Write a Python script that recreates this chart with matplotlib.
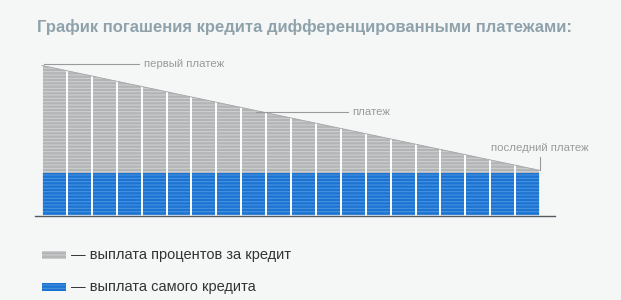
import numpy as np
import matplotlib
matplotlib.use("Agg")
import matplotlib.pyplot as plt
from matplotlib.patches import Polygon, Rectangle

plt.rcParams["font.family"] = ["Liberation Sans", "DejaVu Sans"]
plt.rcParams["hatch.linewidth"] = 0.7

# data: 20 monthly payments, principal constant, interest falls
months = np.arange(20)
principal = [5000] * 20
interest = [12200, 11590, 10980, 10370, 9760, 9150, 8540, 7930, 7320, 6710,
            6100, 5490, 4880, 4270, 3660, 3050, 2440, 1830, 1220, 610]

title = "График погашения кредита дифференцированными платежами:"
labels = ["первый платеж", "платеж", "последний платеж"]
legend_labels = ["— выплата процентов за кредит", "— выплата самого кредита"]

bg = "#f5f7f7"
gray = "#b2b4b6"
blue = "#1c74d2"

fig = plt.figure(figsize=(6.21, 3.0), dpi=100, facecolor=bg)
ax = fig.add_axes([35 / 621, 84 / 300, 520 / 621, 156 / 300])
ax.set_facecolor(bg)

totals = np.array(principal) + np.array(interest)
k, b = np.polyfit(months, totals, 1)
top = lambda x: k * x + b

ax.set_xlim(-0.5 - 7 / 24.9, 19.5 + 15 / 24.9)
ax.set_ylim(0, 156 * 5000 / 43)

# slanted top: clip bars to the trend of the totals
clip = Polygon([(-0.5, 0), (-0.5, top(-0.5)), (19.5, top(19.5)), (19.5, 0)],
               closed=True, transform=ax.transData, facecolor="none", edgecolor="none")
ax.add_patch(clip)

extra = abs(k)
g = ax.bar(months, np.array(interest) + extra, bottom=principal, width=1.0,
           color=gray, edgecolor="#d0d2d4", linewidth=0, hatch="-----")
bl = ax.bar(months, principal, width=1.0, color=blue, edgecolor="#4d95e0",
            linewidth=0, hatch="-----")
sep = ax.bar(months, totals + extra, width=1.0, color="none", edgecolor="white",
             linewidth=1.2)
for bars in (g, bl, sep):
    for p in bars:
        p.set_clip_path(clip)

# thin edge along the slanted top
ax.plot([-0.5, 19.5], [top(-0.5), top(19.5)], color="#a4a6a8", lw=0.6)

for s in ["top", "left", "right"]:
    ax.spines[s].set_visible(False)
ax.spines["bottom"].set_color("#555a5e")
ax.spines["bottom"].set_linewidth(1)
ax.set_xticks([])
ax.set_yticks([])

# annotations
lc = "#9a9a9a"
ax.plot([-0.4, 3.4], [top(-0.5) + 120, top(-0.5) + 120], color=lc, lw=0.8, clip_on=False)
ax.text(3.6, top(-0.5) + 120, labels[0], color=lc, fontsize=8.2, va="center", ha="left")
ax.plot([8.1, 11.8], [top(8.3), top(8.3)], color=lc, lw=0.8, clip_on=False)
ax.text(11.95, top(8.3), labels[1], color=lc, fontsize=8.2, va="center", ha="left")
ax.plot([19.5, 19.5], [top(19.5), top(19.5) + 1600], color=lc, lw=0.8, clip_on=False)
ax.text(21.45, top(19.5) + 2600, labels[2], color=lc, fontsize=8.2, va="center", ha="right")

fig.text(37 / 621, 1 - 27 / 300, title, color="#8fa2ac", fontsize=12.0,
         fontweight="bold", va="center", ha="left")

# legend
for i, (lab, col, hc) in enumerate(zip(legend_labels, [gray, blue], ["#d0d2d4", "#4d95e0"])):
    yc = 254.5 + 32 * i
    fig.patches.append(Rectangle((42 / 621, 1 - (yc + 4) / 300), 24 / 621, 8 / 300,
                                 transform=fig.transFigure, facecolor=col,
                                 edgecolor=hc, linewidth=0, hatch="-----"))
    fig.text(71 / 621, 1 - yc / 300, lab, color="#333333", fontsize=10.5,
             va="center", ha="left")

fig.savefig("out.png", dpi=100, facecolor=bg)
